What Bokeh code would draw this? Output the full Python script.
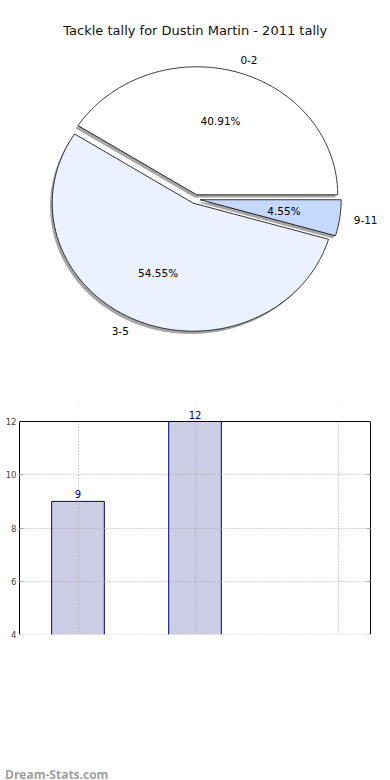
import numpy as np
from bokeh.plotting import figure
from bokeh.layouts import column
from bokeh.models import (Label, LinearAxis, FixedTicker, ColumnDataSource,
                          Range1d, Grid, BoxAnnotation, Span, Div)
from bokeh.core.properties import value
from bokeh.embed import file_html
from bokeh.resources import INLINE

# ---------------- data ----------------
categories = ["0-2", "3-5", "9-11"]
counts = [9, 12, 1]
pie_colors = ["#ffffff", "#ebf1fe", "#c5d9fe"]
y_ticks = [4, 6, 8, 10, 12]
title_text = "Tackle tally for Dustin Martin - 2011 tally"
y_label = "Number of games"
watermark = "Dream-Stats.com"

FONT = value("DejaVu Sans")
FONT_S = "DejaVu Sans"

# ---------------- pie ----------------
total = float(sum(counts))
fracs = np.array(counts) / total
ends = np.cumsum(fracs) * 2 * np.pi
starts = ends - fracs * 2 * np.pi
explode = 0.035

wx, wy, sx, sy = [], [], [], []
pct_x, pct_y, pct_txt = [], [], []
lab_x, lab_y, lab_align = [], [], []
for s, e, f in zip(starts, ends, fracs):
    mid = (s + e) / 2
    ox, oy = explode * np.cos(mid), explode * np.sin(mid)
    t = np.linspace(s, e, max(int((e - s) / 0.01), 3))
    xs = [ox] + list(ox + np.cos(t))
    ys = [oy] + list(oy + np.sin(t))
    wx.append(xs); wy.append(ys)
    sx.append([v - 0.016 for v in xs]); sy.append([v - 0.022 for v in ys])
    pct_x.append(ox + 0.6 * np.cos(mid)); pct_y.append(oy + 0.6 * np.sin(mid))
    pct_txt.append("%.2f%%" % (f * 100))
    lx = ox + 1.1 * np.cos(mid)
    lab_x.append(lx); lab_y.append(oy + 1.1 * np.sin(mid))
    lab_align.append("left" if lx > 0 else "right")

p1 = figure(width=390, height=390, x_range=Range1d(-1.3816, 1.3844),
            y_range=Range1d(-1.4953, 1.5516), output_backend="svg",
            toolbar_location=None, min_border_left=0, min_border_right=0,
            min_border_top=0, min_border_bottom=0, x_axis_location=None,
            y_axis_location=None, outline_line_color=None)
p1.grid.visible = False
p1.patches(sx, sy, fill_color="#4d4d4d", fill_alpha=0.5, line_color=None)
p1.patches(wx, wy, fill_color=pie_colors, line_color="black", line_width=0.8)
p1.text(x=pct_x, y=pct_y, text=pct_txt, text_align="center", text_baseline="middle",
        text_font=FONT, text_font_size="10.5px", text_color="black")
lab_src = ColumnDataSource(dict(x=lab_x, y=lab_y, t=categories, a=lab_align))
p1.text(x="x", y="y", text="t", text_align="a", text_baseline="middle",
        text_font=FONT, text_font_size="10.5px", text_color="black", source=lab_src)
p1.text(x=[0.0], y=[1.317], text=[title_text], text_align="center", text_baseline="middle",
        text_font=FONT, text_font_size="13px", text_color="#111111")

# ---------------- bars ----------------
px_per_unit = 213.0 / (y_ticks[-1] - y_ticks[0])
y_lo = y_ticks[0] - 126 / px_per_unit
y_hi = y_ticks[-1] + 16 / px_per_unit
xpos = list(range(len(categories)))
p2 = figure(width=390, height=370, x_range=Range1d(-0.5, 2.5),
            y_range=Range1d(y_lo, y_hi), output_backend="svg",
            toolbar_location=None, x_axis_location=None, y_axis_location=None,
            min_border_left=19, min_border_right=20, min_border_top=15,
            min_border_bottom=0, outline_line_color=None)
p2.grid.visible = False

p2.vbar(x=xpos, top=counts, bottom=0, width=0.45, fill_color="#cdcde6",
        line_color="#000080", line_width=1)

p2.add_layout(Grid(dimension=0, ticker=FixedTicker(ticks=[0, 1, 2.226]),
                   grid_line_color="#a8a8a8", grid_line_dash="1 2", level="annotation"))
p2.add_layout(Grid(dimension=1, ticker=FixedTicker(ticks=y_ticks),
                   grid_line_color="#a8a8a8", grid_line_dash="1 2", level="annotation"))

# blank the areas outside the 4..12 window
p2.add_layout(BoxAnnotation(top=y_ticks[0], fill_color="white", fill_alpha=1,
                            line_color=None, level="annotation"))
p2.add_layout(BoxAnnotation(bottom=y_ticks[-1], fill_color="white", fill_alpha=1,
                            line_color=None, level="annotation"))
p2.add_layout(Span(location=y_ticks[-1], dimension="width", line_color="black",
                   line_width=1, level="annotation"))

yax = LinearAxis(ticker=FixedTicker(ticks=y_ticks), major_label_text_font_size="8.5px",
                 major_label_text_font=FONT_S, major_tick_in=4, major_tick_out=0,
                 major_tick_line_color="#aaaaaa", minor_tick_line_color=None,
                 major_label_standoff=3, axis_line_color="black",
                 bounds=(y_ticks[0], y_ticks[-1]))
p2.add_layout(yax, "left")
rax = LinearAxis(ticker=FixedTicker(ticks=y_ticks), major_label_text_font_size="0px",
                 major_tick_in=4, major_tick_out=0, major_tick_line_color="#aaaaaa",
                 minor_tick_line_color=None, axis_line_color="black", major_label_standoff=0,
                 bounds=(y_ticks[0], y_ticks[-1]))
p2.add_layout(rax, "right")

for i, c in enumerate(counts):
    if c >= y_ticks[0]:
        p2.add_layout(Label(x=xpos[i], y=c, text=str(c), text_align="center",
                            text_baseline="bottom", y_offset=3, text_font=FONT_S,
                            text_font_size="10px", text_color="#000080"))

p2.add_layout(Label(x=-13, y=170, x_units="screen", y_units="screen", text=y_label,
                    angle=np.pi / 2, text_align="center", text_baseline="bottom",
                    text_font=FONT_S, text_font_size="9px", text_color="black"))

wm = Div(text=watermark, width=390, height=20,
         styles={"font-family": "Open Sans", "font-size": "12px", "font-weight": "bold",
                 "color": "#a0a0a0", "padding-top": "4px", "line-height": "12px"})

layout = column(column(p1), column(p2), wm, spacing=0)
open("out.html", "w").write(file_html(layout, INLINE))
